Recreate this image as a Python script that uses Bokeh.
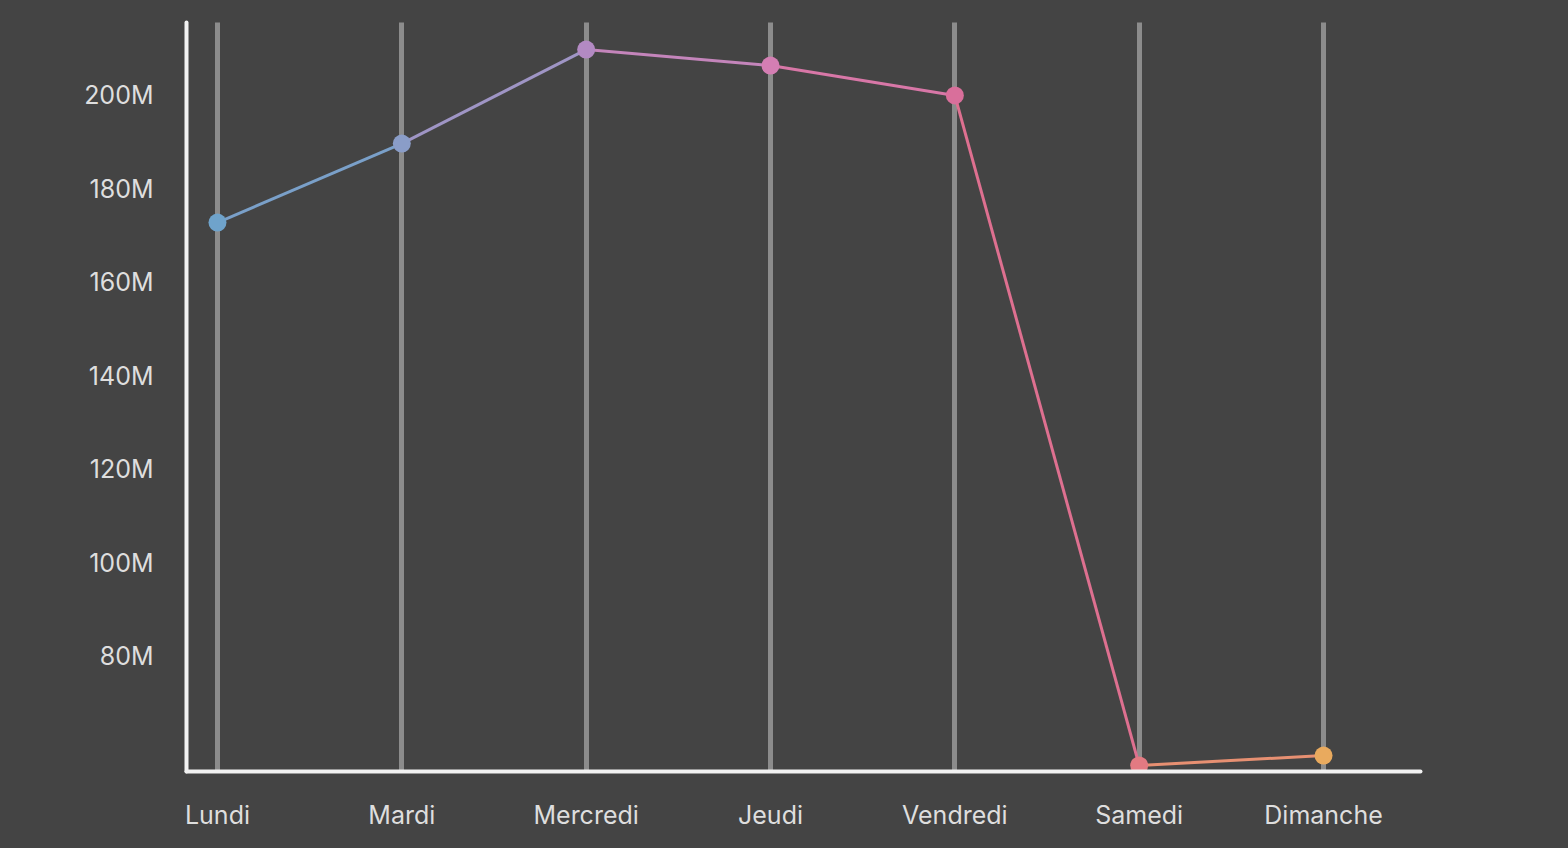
from bokeh.plotting import figure
from bokeh.models import FixedTicker, Range1d, ColumnDataSource
from bokeh.embed import file_html
from bokeh.resources import INLINE

days = ["Lundi", "Mardi", "Mercredi", "Jeudi", "Vendredi", "Samedi", "Dimanche"]
values_m = [172.8, 189.7, 209.8, 206.4, 200.0, 56.7, 58.8]
point_colors = ["#6fa3cb", "#8a9dc8", "#b38ac3", "#d47eb3", "#d96f9b", "#e27a82", "#e9aa5e"]
segment_colors = ["#7aa0c9", "#9f95c5", "#c485bb", "#d877a7", "#de7090", "#e79072"]
y_ticks = [80, 100, 120, 140, 160, 180, 200]
y_tick_labels = ["80M", "100M", "120M", "140M", "160M", "180M", "200M"]

xs = list(range(len(days)))
BG = "#444444"
TXT = "#dedede"
FONT = "Inter"
FSIZE = "25px"

X0, X1 = -0.168, 6.526
p = figure(width=1568, height=848, output_backend="svg", toolbar_location=None,
           x_range=Range1d(X0, X1), y_range=Range1d(55.4, 215.6),
           background_fill_color=None, border_fill_color=None,
           min_border_left=186, min_border_right=148, min_border_top=22, min_border_bottom=77)
p.styles = {"background-color": BG}
p.outline_line_color = None

# grid
p.ygrid.grid_line_color = None
p.xgrid.grid_line_color = "#8c8c8c"
p.xgrid.grid_line_width = 5
p.xgrid.grid_line_cap = "round"

# axes
for ax in (p.xaxis[0], p.yaxis[0]):
    ax.axis_line_color = "#f2f2f2"
    ax.axis_line_width = 4
    ax.axis_line_cap = "round"
    ax.major_tick_line_color = None
    ax.minor_tick_line_color = None
    ax.major_label_text_color = TXT
    ax.major_label_text_font = FONT
    ax.major_label_text_font_size = FSIZE

p.xaxis.ticker = FixedTicker(ticks=xs)
p.xaxis.major_label_overrides = {i: d for i, d in enumerate(days)}
p.xaxis.major_label_standoff = 22

p.yaxis.ticker = FixedTicker(ticks=y_ticks)
p.yaxis.major_label_overrides = dict(zip(y_ticks, y_tick_labels))
p.yaxis.major_label_standoff = 27

seg = ColumnDataSource(dict(x0=xs[:-1], y0=values_m[:-1], x1=xs[1:], y1=values_m[1:], c=segment_colors))
p.segment("x0", "y0", "x1", "y1", source=seg, line_color="c", line_width=3)
pts = ColumnDataSource(dict(x=xs, y=values_m, c=point_colors))
p.scatter("x", "y", source=pts, size=18, fill_color="c", line_color=None)

open("out.html", "w").write(file_html(p, INLINE))
